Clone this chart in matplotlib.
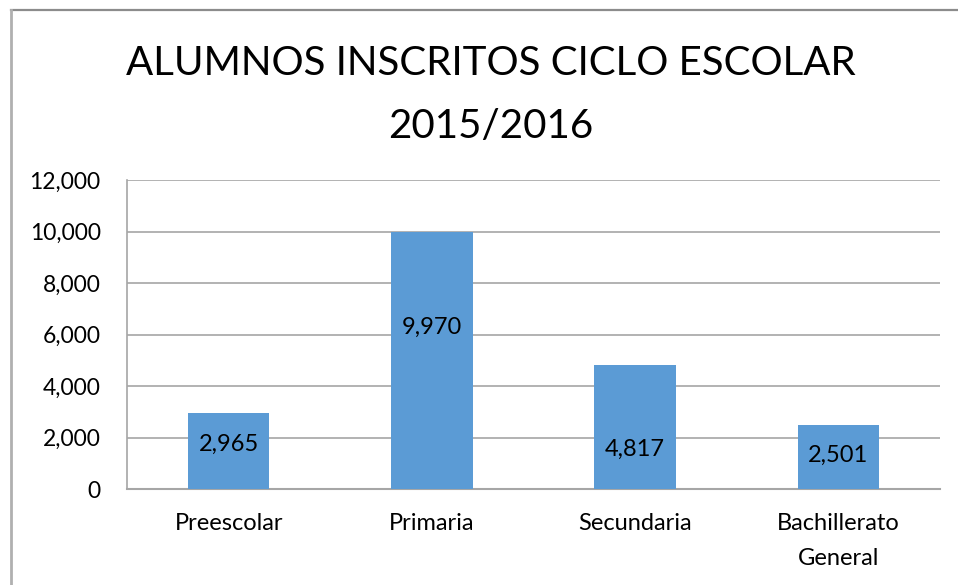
import matplotlib.pyplot as plt
from matplotlib.lines import Line2D
from matplotlib.ticker import FuncFormatter

categories = ["Preescolar", "Primaria", "Secundaria", "Bachillerato\nGeneral"]
alumnos = [2965, 9970, 4817, 2501]
y_ticks = [0, 2000, 4000, 6000, 8000, 10000, 12000]
title = "ALUMNOS INSCRITOS CICLO ESCOLAR\n2015/2016"

plt.rcParams['font.family'] = ['Lato', 'DejaVu Sans']

fig = plt.figure(figsize=(9.58, 5.85), dpi=100)
ax = fig.add_axes([0.1326, 0.1641, 0.8486, 0.5282])

x = range(len(categories))
bars = ax.bar(x, alumnos, width=0.4, color='#5B9BD5', zorder=3)

# label heights as fraction of the bar (as placed in the original)
label_frac = [0.58, 0.63, 0.32, 0.53]
for xi, v, f in zip(x, alumnos, label_frac):
    ax.text(xi, v * f, f"{v:,}", ha='center', va='center', fontsize=17, color='black', zorder=4)

ax.set_xlim(-0.5, len(categories) - 0.5)
ax.set_ylim(0, 12000)
ax.set_yticks(y_ticks)
ax.yaxis.set_major_formatter(FuncFormatter(lambda v, p: f"{int(v):,}"))
ax.set_xticks(list(x))
ax.set_xticklabels(categories, fontsize=17, linespacing=1.82, va='top')
ax.tick_params(axis='y', length=0, labelsize=16.5, pad=19)
ax.tick_params(axis='x', length=0, pad=17)
ax.grid(axis='y', color='#a6a6a6', linewidth=1.2, zorder=0)

for s in ['top', 'right']:
    ax.spines[s].set_visible(False)
ax.spines['left'].set_color('#a6a6a6')
ax.spines['bottom'].set_color('#a6a6a6')
ax.spines['left'].set_linewidth(1.2)
ax.spines['bottom'].set_linewidth(1.5)

fig.text(0.512, 0.838, title, ha='center', va='center', fontsize=29, linespacing=1.85)

# chart frame visible at the top and left edges
fig.add_artist(Line2D([10.5 / 958, 1], [1 - 9.5 / 585, 1 - 9.5 / 585], color='#8c8c8c', linewidth=1.6))
fig.add_artist(Line2D([10.5 / 958, 10.5 / 958], [0, 1 - 9.5 / 585], color='#b0b0b0', linewidth=2))

fig.savefig("out.png", dpi=100)
